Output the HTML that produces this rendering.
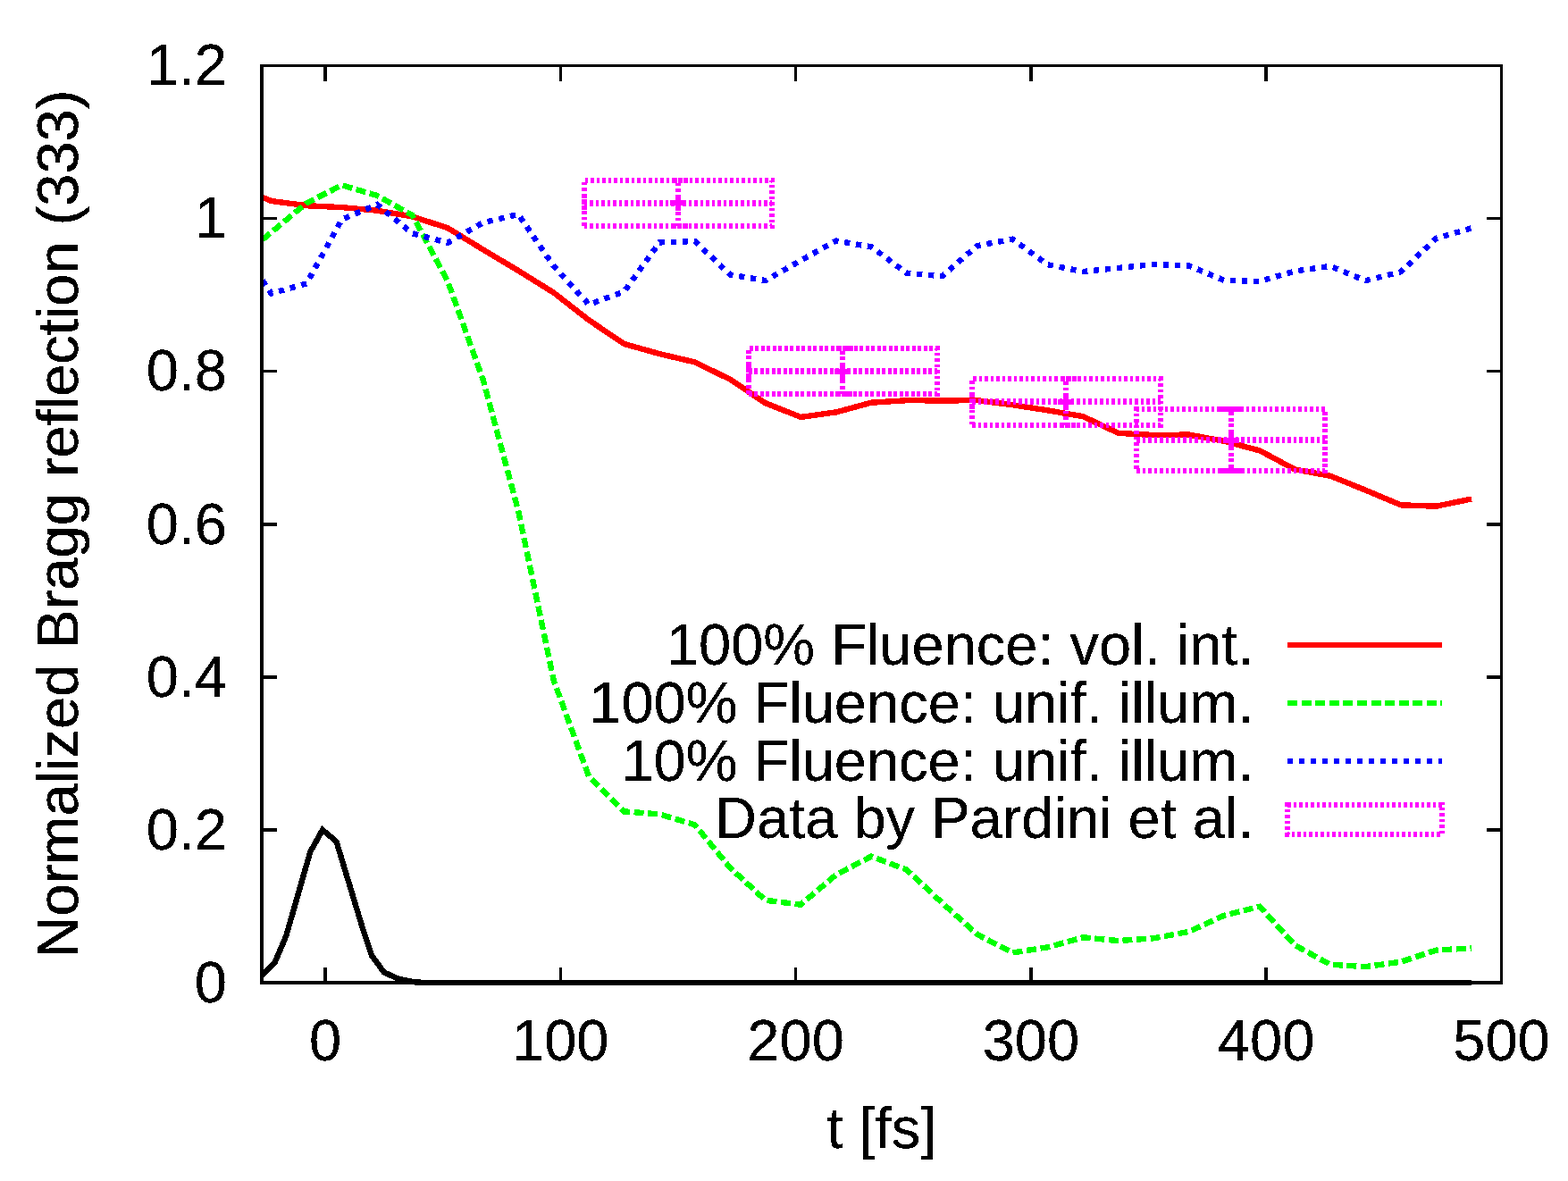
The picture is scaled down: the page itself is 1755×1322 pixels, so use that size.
<!DOCTYPE html>
<html lang="en"><head><meta charset="utf-8"><title>Normalized Bragg reflection (333)</title>
<style>html,body{margin:0;padding:0;background:#fff}body{width:1755px;height:1322px;overflow:hidden}svg{display:block}text{font-family:"Liberation Sans",Arial,Helvetica,sans-serif;font-size:65px;fill:#000}</style>
</head><body>
<svg width="1755" height="1322" viewBox="0 0 1755 1322">
<rect width="1755" height="1322" fill="#fff"/>
<defs><filter id="na" x="-5%" y="-5%" width="110%" height="110%" color-interpolation-filters="sRGB"><feComponentTransfer><feFuncA type="discrete" tableValues="0 1 1"/></feComponentTransfer></filter></defs>
<g text-anchor="end" filter="url(#na)">
<text x="254" y="1121.7">0</text>
<text x="254" y="950.6">0.2</text>
<text x="254" y="779.5">0.4</text>
<text x="254" y="608.5">0.6</text>
<text x="254" y="437.4">0.8</text>
<text x="254" y="266.3">1</text>
<text x="254" y="95.2">1.2</text>
</g>
<g text-anchor="middle" filter="url(#na)">
<text x="364.0" y="1186.8">0</text>
<text x="627.3" y="1186.8">100</text>
<text x="890.6" y="1186.8">200</text>
<text x="1153.9" y="1186.8">300</text>
<text x="1417.2" y="1186.8">400</text>
<text x="1680.5" y="1186.8">500</text>
<text x="986.8" y="1285.1">t [fs]</text>
<text transform="translate(87.1,586.5) rotate(-90)">Normalized Bragg reflection (333)</text>
</g>
<g fill="none" stroke-linejoin="miter" stroke-linecap="butt" shape-rendering="crispEdges">
<polyline points="293.0,220.5 303.6,225.0 343.1,230.2 382.6,232.1 422.1,235.7 461.6,242.4 501.1,255.2 540.7,279.4 580.2,303.0 619.7,327.6 659.2,358.4 698.7,385.0 738.2,396.1 777.7,405.4 817.2,424.7 856.7,451.2 896.2,466.9 935.8,461.4 975.3,450.7 1014.8,448.2 1054.3,448.4 1093.8,448.2 1133.3,453.2 1172.8,459.4 1212.3,466.2 1251.8,484.9 1291.3,487.0 1330.9,486.6 1370.4,493.9 1409.9,504.4 1449.4,525.5 1488.9,532.7 1528.4,548.7 1567.9,565.3 1607.4,566.7 1647.0,558.5" stroke="#f00" stroke-width="6.4"/>
<polyline points="293.0,269.1 303.6,260.1 343.1,227.4 382.6,207.3 422.1,218.9 461.6,241.0 501.1,314.9 540.7,425.1 580.2,572.1 619.7,761.5 659.2,869.4 698.7,908.4 738.2,911.4 777.7,923.3 817.2,971.4 856.7,1007.7 896.2,1012.7 935.8,979.2 975.3,958.6 1014.8,973.6 1054.3,1010.5 1093.8,1046.0 1133.3,1066.4 1172.8,1060.3 1212.3,1049.3 1251.8,1053.1 1291.3,1050.3 1330.9,1042.8 1370.4,1024.6 1409.9,1014.8 1449.4,1058.1 1488.9,1079.7 1528.4,1082.1 1567.9,1076.7 1607.4,1063.6 1647.0,1061.4" stroke="#0f0" stroke-width="6.4" stroke-dasharray="11.06 4.58" stroke-dashoffset="14.56"/>
<polyline points="293.0,312.5 303.6,328.5 343.1,317.4 382.6,245.7 422.1,229.0 461.6,261.3 501.1,271.8 540.7,249.2 580.2,240.0 619.7,297.8 659.2,340.9 698.7,326.3 738.2,271.4 777.7,270.0 817.2,307.4 856.7,314.1 896.2,291.6 935.8,269.5 975.3,276.4 1014.8,305.8 1054.3,309.2 1093.8,275.1 1133.3,267.8 1172.8,296.3 1212.3,304.0 1251.8,300.0 1291.3,295.9 1330.9,297.5 1370.4,314.0 1409.9,314.9 1449.4,303.5 1488.9,297.9 1528.4,314.2 1567.9,304.2 1607.4,266.8 1647.0,255.4" stroke="#00f" stroke-width="6.4" stroke-dasharray="6.2 6.826" stroke-dashoffset="11.136"/>
<g stroke="#f0f" stroke-width="6">
<path stroke-width="7" stroke-dasharray="3.6 2.9" d="M653.63,227.49H864.27"/>
<path stroke-dasharray="3.6 2.9" stroke-dashoffset="3.55" d="M758.95,201.83V253.15"/>
<path stroke-dasharray="3.6 2.9" d="M653.63,253.15H864.27V201.83H653.63Z"/>
<path d="M749.95,227.49H767.95 M758.95,218.49V236.49"/>
<path stroke-dasharray="3.6 2.9" d="M753.13,253.15H770.25"/>
<path stroke-dasharray="3.6 2.9" d="M754.13,201.83H770.25"/>
<path stroke-dasharray="3.6 2.9" d="M653.63,218.73V238.79"/>
</g>
<g stroke="#f0f" stroke-width="6">
<path stroke-width="7" stroke-dasharray="3.6 2.9" d="M837.94,415.68H1048.58"/>
<path stroke-dasharray="3.6 2.9" stroke-dashoffset="3.55" d="M943.26,390.02V441.34"/>
<path stroke-dasharray="3.6 2.9" d="M837.94,441.34H1048.58V390.02H837.94Z"/>
<path d="M934.26,415.68H952.26 M943.26,406.68V424.68"/>
<path stroke-dasharray="3.6 2.9" d="M937.44,441.34H954.56"/>
<path stroke-dasharray="3.6 2.9" d="M938.44,390.02H954.56"/>
<path stroke-dasharray="3.6 2.9" d="M837.94,406.91V426.98"/>
</g>
<g stroke="#f0f" stroke-width="6">
<path stroke-width="7" stroke-dasharray="3.6 2.9" d="M1088.08,449.90H1298.72"/>
<path stroke-dasharray="3.6 2.9" stroke-dashoffset="3.55" d="M1193.39,424.23V475.56"/>
<path stroke-dasharray="3.6 2.9" d="M1088.08,475.56H1298.72V424.23H1088.08Z"/>
<path d="M1184.39,449.90H1202.39 M1193.39,440.90V458.90"/>
<path stroke-dasharray="3.6 2.9" d="M1187.58,475.56H1204.69"/>
<path stroke-dasharray="3.6 2.9" d="M1188.58,424.23H1204.69"/>
<path stroke-dasharray="3.6 2.9" d="M1088.08,441.13V461.20"/>
</g>
<g stroke="#f0f" stroke-width="6">
<path stroke-width="7" stroke-dasharray="3.6 2.9" d="M1272.38,492.67H1483.03"/>
<path stroke-dasharray="3.6 2.9" stroke-dashoffset="3.55" d="M1377.70,458.45V526.88"/>
<path stroke-dasharray="3.6 2.9" d="M1272.38,526.88H1483.03V458.45H1272.38Z"/>
<path d="M1368.70,492.67H1386.70 M1377.70,483.67V501.67"/>
<path d="M1366.40,458.45H1389.00 M1366.40,526.88H1389.00"/>
</g>
<polyline points="293.0,1092.5 307.4,1077.9 320.3,1047.5 347.3,953.5 361.0,929.0 376.5,942.0 405.3,1037.2 416.2,1069.9 429.8,1088.3 444.8,1095.4 463.5,1099.3 476.0,1100.0 1647.0,1100.0" stroke="#000" stroke-width="6.4"/>
<path d="M1441.2,721.6H1613.7" stroke="#f00" stroke-width="6"/>
<path d="M1441.2,787.1H1613.7" stroke="#0f0" stroke-width="6" stroke-dasharray="11 4.57"/>
<path d="M1441.2,852.0H1613.7" stroke="#00f" stroke-width="6" stroke-dasharray="6.2 6.8"/>
<path d="M1441.2,900.6H1613.7V934H1441.2Z" stroke="#f0f" stroke-width="6" stroke-dasharray="3.6 2.9"/>
</g>
<g stroke="#000" stroke-width="3.5" fill="none" shape-rendering="crispEdges" stroke-linecap="butt">
<rect x="293.0" y="73.5" width="1387.5" height="1026.5"/>
<path d="M364.0,1100.0V1083.0 M364.0,73.5V90.5"/>
<path d="M627.3,1100.0V1083.0 M627.3,73.5V90.5"/>
<path d="M890.6,1100.0V1083.0 M890.6,73.5V90.5"/>
<path d="M1153.9,1100.0V1083.0 M1153.9,73.5V90.5"/>
<path d="M1417.2,1100.0V1083.0 M1417.2,73.5V90.5"/>
<path d="M293.0,928.9H310.0 M1680.5,928.9H1663.5"/>
<path d="M293.0,757.8H310.0 M1680.5,757.8H1663.5"/>
<path d="M293.0,586.8H310.0 M1680.5,586.8H1663.5"/>
<path d="M293.0,415.7H310.0 M1680.5,415.7H1663.5"/>
<path d="M293.0,244.6H310.0 M1680.5,244.6H1663.5"/>
</g>
<g text-anchor="end" filter="url(#na)">
<text x="1403.5" y="743.9">100% Fluence: vol. int.</text>
<text x="1403.5" y="809.1">100% Fluence: unif. illum.</text>
<text x="1403.5" y="873.8">10% Fluence: unif. illum.</text>
<text x="1403.5" y="938.2">Data by Pardini et al.</text>
</g>
</svg></body></html>
